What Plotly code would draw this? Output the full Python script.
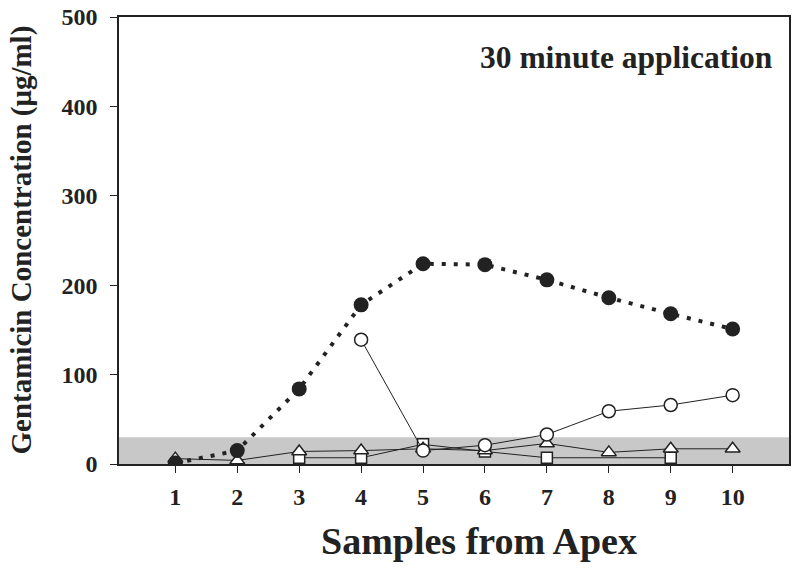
import plotly.graph_objs as go

samples = [1, 2, 3, 4, 5, 6, 7, 8, 9, 10]
filled_circles = [1, 15, 84, 178, 224, 223, 206, 186, 168, 151]
open_circles = [None, None, None, 139, 15, 21, 33, 59, 66, 77]
triangles = [6, 4, 14, 15, 17, 15, 23, 13, 17, 17]
squares = [None, None, 7, 7, 22, 14, 7, None, 7, None]
y_ticks = [0, 100, 200, 300, 400, 500]
band_top = 30

FONT = 'Liberation Serif'
INK = '#222222'

W, H = 799, 569
L, R, T, B = 119, 10, 17, 105
PW, PH = W - L - R, H - T - B

data = []

# open-marker series first, thin solid lines
data.append(go.Scatter(
    x=samples, y=squares, mode='lines+markers', connectgaps=True,
    line=dict(color=INK, width=1),
    marker=dict(symbol='square', size=11, color='white',
                line=dict(color=INK, width=1.5)),
))
data.append(go.Scatter(
    x=samples, y=triangles, mode='lines+markers',
    line=dict(color=INK, width=1),
    marker=dict(symbol='triangle-up', size=13, color='white',
                line=dict(color=INK, width=1.5)),
))
data.append(go.Scatter(
    x=samples, y=open_circles, mode='lines+markers',
    line=dict(color=INK, width=1),
    marker=dict(symbol='circle', size=13, color='white',
                line=dict(color=INK, width=1.5)),
))
data.append(go.Scatter(
    x=samples, y=filled_circles, mode='lines+markers',
    line=dict(color=INK, width=4, dash='4px,8px'),
    marker=dict(symbol='circle', size=15, color=INK),
))

layout = go.Layout(
    width=W,
    height=H,
    showlegend=False,
    paper_bgcolor='white',
    plot_bgcolor='white',
    margin=dict(l=L, r=R, t=T, b=B),
    font=dict(family=FONT, color=INK),
    xaxis=dict(
        range=[0.09, 10.91],
        tickvals=samples,
        ticktext=['<b>%d</b>' % s for s in samples],
        tickfont=dict(size=24),
        ticks='outside', ticklen=7, tickcolor=INK,
        ticklabelstandoff=3,
        showgrid=False, zeroline=False, automargin=False,
        showline=True, linecolor=INK, linewidth=1.5, mirror=True,
    ),
    yaxis=dict(
        range=[0, 500],
        tickvals=y_ticks,
        ticktext=['<b>%d</b>' % v for v in y_ticks],
        tickfont=dict(size=24),
        ticks='outside', ticklen=7, tickcolor=INK,
        ticklabelstandoff=8, ticklabeloverflow='allow',
        showgrid=False, zeroline=False, automargin=False,
        showline=True, linecolor=INK, linewidth=1.5, mirror=True,
    ),
    shapes=[dict(
        type='rect', xref='paper', yref='y', x0=0, x1=1, y0=0, y1=band_top,
        fillcolor='#c8c8c8', line=dict(width=0), layer='below',
    )],
    annotations=[
        dict(text='<b>30 minute application</b>', xref='paper', yref='paper',
             x=(775 - L) / PW, y=(464 - 57) / PH, xanchor='right', yanchor='middle',
             showarrow=False, font=dict(size=31.5, color=INK)),
        dict(text='<b>Samples from Apex</b>', xref='paper', yref='paper',
             x=(479 - L) / PW, y=-(541 - 464) / PH, xanchor='center', yanchor='middle',
             showarrow=False, font=dict(size=38, color=INK)),
        dict(text='<b>Gentamicin Concentration (μg/ml)</b>', xref='paper', yref='paper',
             x=-(L - 21) / PW, y=0.5, xanchor='center', yanchor='middle', textangle=-90,
             showarrow=False, font=dict(size=29, color=INK)),
    ],
)

fig = go.Figure(data=data, layout=layout)
# drop the default 8px page margin so the figure fills the window
fig.write_html("out.html", config={'displayModeBar': False},
               post_script="document.body.style.margin='0';")
